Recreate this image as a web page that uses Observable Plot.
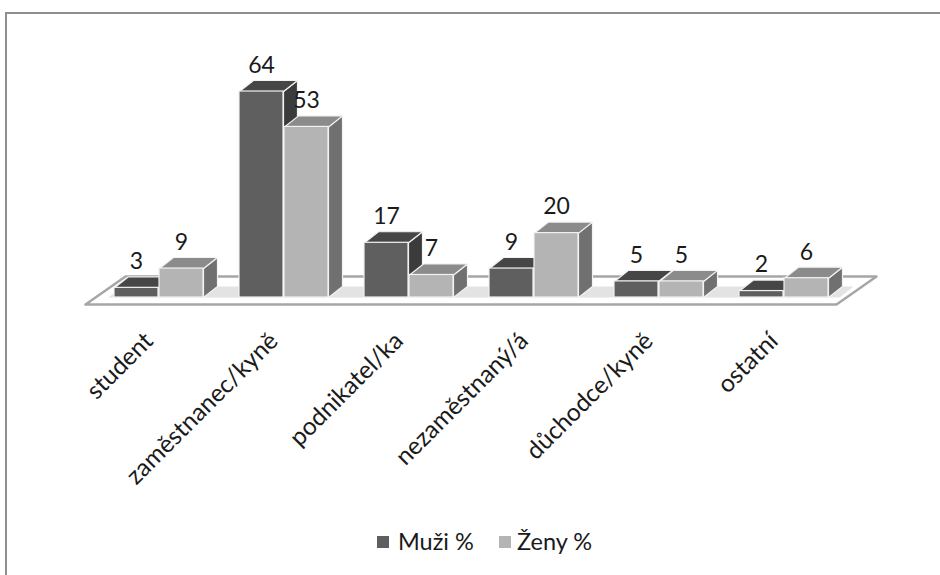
<!DOCTYPE html>
<html>
<head>
<meta charset="utf-8">
<script src="https://cdn.jsdelivr.net/npm/d3@7"></script>
<script src="https://cdn.jsdelivr.net/npm/@observablehq/plot@0.6"></script>
<style>
  html, body { margin: 0; padding: 0; background: #fff; }
  #wrap { position: relative; width: 940px; height: 575px; overflow: hidden; font-family: Lato, "Open Sans", sans-serif; }
  #border { position: absolute; left: 5px; top: 12px; width: 960px; height: 600px; border-top: 2px solid #8f8f8f; border-left: 2px solid #8f8f8f; }
  #chart { position: absolute; left: 0; top: 0; }
  #legend { position: absolute; left: 0; top: 526px; width: 940px; height: 30px; font-size: 23.5px; color: #1a1a1a; }
  .sw { position: absolute; top: 10px; width: 12px; height: 12px; }
  .lt { position: absolute; top: 0; line-height: 30px; }
</style>
</head>
<body>
<div id="wrap">
  <div id="border"></div>
  <div id="chart"></div>
  <div id="legend"></div>
</div>
<script>
// ---- data ----
const categories = ["student", "zaměstnanec/kyně", "podnikatel/ka", "nezaměstnaný/á", "důchodce/kyně", "ostatní"];
const muzi = [3, 64, 17, 9, 5, 2];
const zeny = [9, 53, 7, 20, 5, 6];
const seriesNames = ["Muži %", "Ženy %"];

// ---- styling / geometry (not data) ----
const palette = [
  {front: "#5f5f5f", top: "#464646", side: "#3b3b3b"},
  {front: "#b4b4b4", top: "#8b8b8b", side: "#707070"}
];
const barW = 0.352;      // bar width in category units
const seriesStep = 0.36; // offset of 2nd series
const depthX = 0.112;    // 3D depth offset (x units)
const depthY = 3.42;     // 3D depth offset (y units)

const series = [muzi, zeny];
const bars = [];
series.forEach((vals, j) => vals.forEach((v, i) => {
  const x0 = i + j * seriesStep;
  bars.push({i, j, v, x0, x1: x0 + barW, ...palette[j]});
}));

const tops = [], sides = [];
bars.forEach((b, k) => {
  const t = [[b.x0, b.v], [b.x1, b.v], [b.x1 + depthX, b.v + depthY], [b.x0 + depthX, b.v + depthY], [b.x0, b.v]];
  t.forEach(([x, y]) => tops.push({id: "t" + k, x, y, fill: b.top}));
  const s = [[b.x1, 0], [b.x1 + depthX, depthY], [b.x1 + depthX, b.v + depthY], [b.x1, b.v], [b.x1, 0]];
  s.forEach(([x, y]) => sides.push({id: "s" + k, x, y, fill: b.side}));
});

// floor plate and shaded strip under the bars
const n = categories.length;
const floorPts = [[-0.232, -2.17], [n - 0.224, -2.17], [n - 0.224 + 0.32, -2.17 + 8.7], [-0.232 + 0.32, -2.17 + 8.7], [-0.232, -2.17]]
  .map(([x, y]) => ({x, y}));
const stripPts = [[-0.05, 0], [n - 0.2, 0], [n - 0.2 + depthX, depthY], [-0.05 + depthX, depthY], [-0.05, 0]]
  .map(([x, y]) => ({x, y}));

const chart = Plot.plot({
  width: 940,
  height: 520,
  marginTop: 0, marginLeft: 0, marginRight: 0, marginBottom: 178,
  x: {type: "linear", domain: [0, 1], range: [114, 239], axis: null},
  y: {type: "linear", domain: [0, 64], range: [297, 91], axis: null},
  color: {type: "identity"},
  style: {fontFamily: "Lato, 'Open Sans', sans-serif", background: "transparent"},
  marks: [
    Plot.line(floorPts, {x: "x", y: "y", fill: "#ffffff", stroke: "#a6a6a6", strokeWidth: 2.5, strokeLinejoin: "round"}),
    Plot.line(stripPts, {x: "x", y: "y", fill: "#e3e3e3", stroke: "none"}),
    Plot.line(sides, {x: "x", y: "y", z: "id", fill: "fill", stroke: "#f2f2f2", strokeWidth: 1.2}),
    Plot.line(tops, {x: "x", y: "y", z: "id", fill: "fill", stroke: "#f2f2f2", strokeWidth: 1.2}),
    Plot.rect(bars, {x1: "x0", x2: "x1", y1: 0, y2: "v", fill: "front", stroke: "#f2f2f2", strokeWidth: 1.2}),
    Plot.text(bars, {x: d => d.x0 + barW / 2, y: d => d.v + depthY, text: d => String(d.v), dy: -15, fontSize: 23, fill: "#1a1a1a"}),
    Plot.text(categories, {x: (d, i) => i + seriesStep - 0.04, frameAnchor: "bottom", text: d => d, rotate: -45, textAnchor: "end", fontSize: 24.5, fill: "#1a1a1a"})
  ]
});
document.getElementById("chart").appendChild(chart);

// legend
const legend = document.getElementById("legend");
const legendPos = [[377, 398], [499, 517]];
seriesNames.forEach((name, j) => {
  const sw = document.createElement("div");
  sw.className = "sw";
  sw.style.left = legendPos[j][0] + "px";
  sw.style.background = palette[j].front;
  legend.appendChild(sw);
  const t = document.createElement("div");
  t.className = "lt";
  t.style.left = legendPos[j][1] + "px";
  t.textContent = name;
  legend.appendChild(t);
});
</script>
</body>
</html>
